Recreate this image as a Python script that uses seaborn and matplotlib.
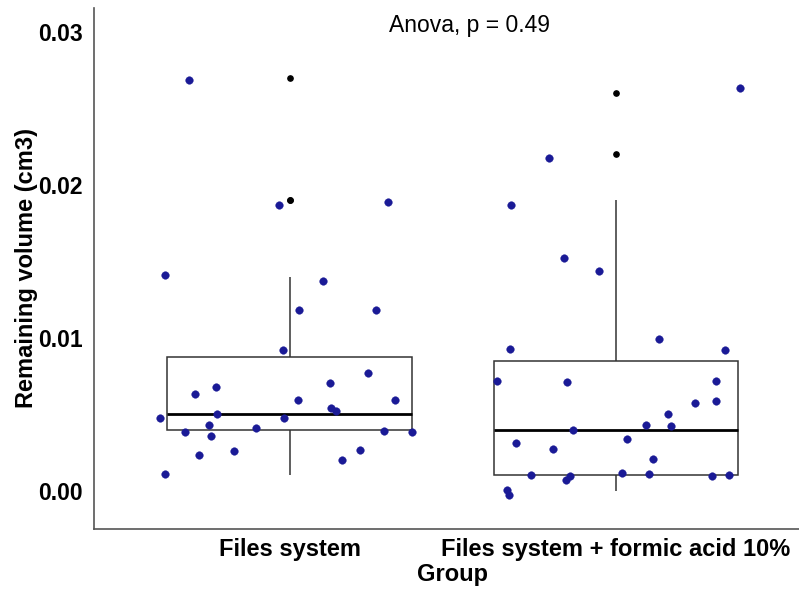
import numpy as np
import pandas as pd
import matplotlib
matplotlib.use("Agg")
import matplotlib.pyplot as plt
import seaborn as sns

# ---------------- data ----------------
groups = ["Files system", "Files system + formic acid 10%"]

# measured values (0.001 resolution) used for the boxplots
values_fs = [0.014, 0.014, 0.012, 0.012, 0.009, 0.008, 0.007, 0.007, 0.006, 0.006,
             0.006, 0.005, 0.005, 0.005, 0.005, 0.005, 0.004, 0.004, 0.004, 0.004,
             0.004, 0.004, 0.003, 0.003, 0.002, 0.002, 0.001, 0.027, 0.019, 0.019]
values_fa = [0.026, 0.022, 0.019, 0.015, 0.014, 0.010, 0.009, 0.009, 0.007, 0.007,
             0.007, 0.006, 0.006, 0.005, 0.004, 0.004, 0.004, 0.003, 0.003, 0.003,
             0.002, 0.001, 0.001, 0.001, 0.001, 0.001, 0.001, 0.001, 0.000, 0.000]

# jittered points as displayed (value and horizontal jitter)
jit_y_fs = [0.01408, 0.01373, 0.01181, 0.01181, 0.00919, 0.00773, 0.00703, 0.00677,
            0.00635, 0.00594, 0.00594, 0.00540, 0.00524, 0.00504, 0.00478, 0.00478,
            0.00428, 0.00409, 0.00386, 0.00389, 0.00382, 0.00360, 0.00262, 0.00269,
            0.00234, 0.00201, 0.00109, 0.02688, 0.01871, 0.01886]
jit_dx_fs = [-0.383, 0.103, 0.029, 0.265, -0.022, 0.240, 0.123, -0.227, -0.291, 0.025,
             0.323, 0.126, 0.142, -0.224, -0.399, -0.019, -0.248, -0.103, -0.320, 0.288,
             0.374, -0.242, -0.172, 0.214, -0.279, 0.159, -0.383, -0.310, -0.032, 0.301]
jit_y_fa = [0.02637, 0.02174, 0.01871, 0.01519, 0.01437, 0.00995, 0.00926, 0.00919,
            0.00718, 0.00712, 0.00718, 0.00574, 0.00587, 0.00504, 0.00428, 0.00422,
            0.00400, 0.00310, 0.00339, 0.00275, 0.00208, 0.00103, 0.00098, 0.00068,
            0.00118, 0.00111, 0.00096, 0.00103, 0.00003, -0.00028]
jit_dx_fa = [0.381, -0.205, -0.321, -0.160, -0.052, 0.132, -0.324, 0.335, -0.365, -0.150,
             0.307, 0.242, 0.307, 0.160, 0.093, 0.168, -0.130, -0.305, 0.035, -0.194,
             0.113, -0.259, -0.142, -0.152, 0.018, 0.103, 0.294, 0.346, -0.333, -0.327]

yticks = [0.00, 0.01, 0.02, 0.03]
ytick_labels = ["0.00", "0.01", "0.02", "0.03"]
annotation = "Anova, p = 0.49"

# ---------------- plot ----------------
sns.set_style("white")
plt.rcParams["font.family"] = ["Liberation Sans", "DejaVu Sans"]

df_box = pd.DataFrame({
    "Group": [groups[0]] * len(values_fs) + [groups[1]] * len(values_fa),
    "Remaining volume (cm3)": values_fs + values_fa,
})
df_pts = pd.DataFrame({
    "x": [0 + d for d in jit_dx_fs] + [1 + d for d in jit_dx_fa],
    "y": jit_y_fs + jit_y_fa,
})

W, H = 799, 592
fig = plt.figure(figsize=(W / 100, H / 100), dpi=100)
ax = fig.add_axes([94 / W, 63 / H, 717.6 / W, 521 / H])

sns.boxplot(data=df_box, x="Group", y="Remaining volume (cm3)", order=groups,
            width=0.75, color="white", linecolor="#333333", linewidth=1.1,
            showcaps=False, whis=1.5,
            medianprops={"color": "black", "linewidth": 2.0},
            flierprops={"marker": "o", "markersize": 3.8, "markerfacecolor": "black",
                        "markeredgecolor": "black"},
            ax=ax)

sns.scatterplot(data=df_pts, x="x", y="y", color="#1a1a96", s=30, edgecolor="#1a1a96",
                linewidth=0.3, zorder=4, ax=ax, legend=False)

ax.set_xlim(-0.6, 1.6)
ax.set_ylim(-0.002505, 0.03157)
ax.set_xticks([0, 1])
ax.set_xticklabels(groups, fontsize=17, fontweight="bold")
ax.set_yticks(yticks)
ax.set_yticklabels(ytick_labels, fontsize=16.5, fontweight="bold")

ax.tick_params(axis="both", direction="out", length=3.5, width=1, color="#555555",
               labelcolor="black")
ax.tick_params(axis="x", pad=3)
ax.tick_params(axis="y", pad=4.5)

for s in ["top", "right"]:
    ax.spines[s].set_visible(False)
for s in ["left", "bottom"]:
    ax.spines[s].set_color("#555555")
    ax.spines[s].set_linewidth(1.2)

ax.set_xlabel("Group", fontsize=17, fontweight="bold", color="black")
ax.set_ylabel("Remaining volume (cm3)", fontsize=17, fontweight="bold", color="black")
ax.xaxis.set_label_coords(0.5, -0.066)
ax.yaxis.set_label_coords(-0.078, 0.5)

ax.text(0.552, 0.0300, annotation, fontsize=16.5, ha="center", va="baseline",
        color="black")

fig.savefig("out.png", dpi=100)
